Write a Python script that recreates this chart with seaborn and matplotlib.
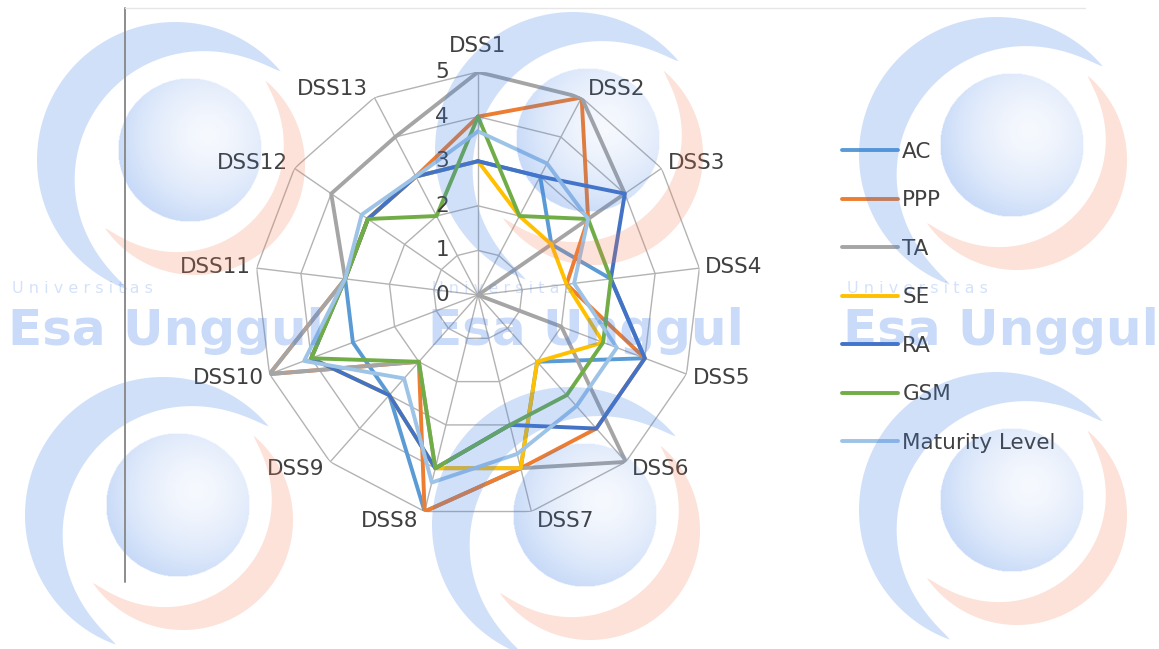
import numpy as np
import pandas as pd
import matplotlib
matplotlib.use("Agg")
import matplotlib.pyplot as plt
import seaborn as sns
from matplotlib.patches import Polygon

# ---------------- data ----------------
categories = ["DSS1", "DSS2", "DSS3", "DSS4", "DSS5", "DSS6", "DSS7",
              "DSS8", "DSS9", "DSS10", "DSS11", "DSS12", "DSS13"]
series_names = ["AC", "PPP", "TA", "SE", "RA", "GSM", "Maturity Level"]
ac = [3, 3, 2, 3, 4, 2, 4, 5, 3, 3, 3, 3, 3]
ppp = [4, 5, 3, 2, 4, 4, 4, 5, 2, 5, 3, 3, 3]
ta = [5, 5, 4, 0, 2, 5, 4, 4, 2, 5, 3, 4, 4]
se = [3, 2, 2, 2, 3, 2, 4, 4, 3, 4, 3, 3, 3]
ra = [3, 3, 4, 3, 4, 4, 3, 4, 3, 4, 3, 3, 3]
gsm = [4, 2, 3, 3, 3, 3, 3, 4, 2, 4, 3, 3, 2]
maturity = [3.67, 3.33, 3.0, 2.17, 3.33, 3.33, 3.67, 4.33, 2.5, 4.17, 3.0, 3.17, 3.0]
tick_values = [0, 1, 2, 3, 4, 5]
colors = ["#5B9BD5", "#ED7D31", "#A5A5A5", "#FFC000", "#4472C4", "#70AD47", "#9DC3E6"]

all_values = [ac, ppp, ta, se, ra, gsm, maturity]

# ---------------- figure ----------------
W, H = 1159, 649
sns.set_theme(style="white")
plt.rcParams["font.family"] = ["DejaVu Sans"]
fig = plt.figure(figsize=(W / 100, H / 100), dpi=100)
fig.patch.set_facecolor("white")

CX, CY, R = 478, 295, 223
ax = fig.add_axes([(CX - R) / W, (H - CY - R) / H, 2 * R / W, 2 * R / H], projection="polar")
ax.set_theta_zero_location("N")
ax.set_theta_direction(-1)
ax.set_ylim(0, max(tick_values))
ax.grid(False)
ax.spines["polar"].set_visible(False)
ax.patch.set_alpha(0)

n = len(categories)
theta = np.linspace(0, 2 * np.pi, n, endpoint=False)

# polygon grid + spokes
grid_c = "#B3B3B3"
closed_t = np.append(theta, theta[0])
for r in tick_values[1:]:
    ax.plot(closed_t, [r] * (n + 1), color=grid_c, lw=1.0, zorder=1)
for t in theta:
    ax.plot([t, t], [0, max(tick_values)], color=grid_c, lw=1.0, zorder=1)

# data frame (closed loops)
rows = []
for name, vals in zip(series_names, all_values):
    for k, i in enumerate(list(range(n)) + [0]):
        rows.append({"series": name, "theta": theta[i] if k < n else 2 * np.pi,
                     "value": vals[i], "order": k})
df = pd.DataFrame(rows)

sns.lineplot(data=df, x="theta", y="value", hue="series", hue_order=series_names,
             palette=colors, sort=False, estimator=None, lw=2.8, ax=ax, zorder=3)
ax.set_xlabel("")
ax.set_ylabel("")
ax.set_xticks([])
ax.set_yticks([])
ax.grid(False)

text_c = "#404040"
FS = 15.5
PX = 72 / 100  # points per pixel
# category labels anchored next to the outer vertex
for t, lab in zip(theta, categories):
    s, c = np.sin(t), np.cos(t)
    if abs(s) < 0.05:
        ha, dx, dy = "center", 0, 26
    else:
        ha = "left" if s > 0 else "right"
        dx, dy = 6 * np.sign(s), 10 * c
    ax.annotate(lab, xy=(t, max(tick_values)), xytext=(dx * PX, dy * PX),
                textcoords="offset points", ha=ha, va="center", fontsize=FS, color=text_c)

# radial tick labels
for v in tick_values:
    ax.annotate(str(v), xy=(0, v), xytext=(-21, 0), textcoords="offset points",
                ha="right", va="center", fontsize=FS, color=text_c)

# legend
sns.move_legend(ax, "upper left", bbox_to_anchor=(842 / W, 1 - 142 / H),
                bbox_transform=fig.transFigure, frameon=False, title=None,
                fontsize=FS, handlelength=2.6, handletextpad=0.2,
                labelspacing=1.32, borderaxespad=0, borderpad=0)
for txt in ax.get_legend().get_texts():
    txt.set_color(text_c)
for ln in ax.get_legend().get_lines():
    ln.set_linewidth(2.8)

# ---------------- watermark / frame layer ----------------
wm = fig.add_axes([0, 0, 1, 1], zorder=10)
wm.set_xlim(0, W)
wm.set_ylim(H, 0)
wm.axis("off")
wm.patch.set_alpha(0)

blue = "#3F7FE6"
salmon = "#F27B50"
blue_rgb = np.array([0x3F, 0x7F, 0xE6]) / 255.0


def crescent(cx, cy, r_out, wmax, a1, a2, color, alpha):
    phi = np.radians(np.linspace(a1, a2, 160))
    w = wmax * np.sin(np.linspace(0, np.pi, 160)) ** 0.8
    xo = cx + r_out * np.cos(phi)
    yo = cy - r_out * np.sin(phi)
    xi = cx + (r_out - w) * np.cos(phi)
    yi = cy - (r_out - w) * np.sin(phi)
    pts = np.column_stack([np.concatenate([xo, xi[::-1]]), np.concatenate([yo, yi[::-1]])])
    wm.add_patch(Polygon(pts, closed=True, facecolor=color, edgecolor="none", alpha=alpha))


def disc(cx, cy, rad):
    g = np.linspace(-rad, rad, 200)
    xx, yy = np.meshgrid(g, g)
    d_edge = np.hypot(xx, yy)
    d_hi = np.hypot(xx - 0.25 * rad, yy + 0.2 * rad) / (1.3 * rad)
    alpha = 0.05 + 0.24 * np.clip(d_hi, 0, 1) ** 1.6
    alpha[d_edge > rad] = 0
    img = np.zeros((200, 200, 4))
    img[..., :3] = blue_rgb
    img[..., 3] = alpha
    wm.imshow(img, extent=[cx - rad, cx + rad, cy + rad, cy - rad], interpolation="bilinear",
              zorder=2)


def logo(cx, cy):
    crescent(cx - 15, cy + 10, 138, 44, 40, 250, blue, 0.24)
    crescent(cx + 5, cy + 15, 110, 30, 215, 410, salmon, 0.22)
    disc(cx, cy, 72)


for (lx, ly) in [(190, 150), (588, 140), (1012, 145), (178, 505), (585, 515), (1012, 500)]:
    logo(lx, ly)
wm.set_xlim(0, W)
wm.set_ylim(H, 0)

for x0 in [8, 428, 843]:
    wm.text(x0 + 4, 293, "U n i v e r s i t a s", fontsize=11.5, color=blue, alpha=0.22,
            ha="left", va="baseline", family="DejaVu Sans")
    wm.text(x0, 345, "Esa Unggul", fontsize=36, fontweight="bold", color=blue, alpha=0.28,
            ha="left", va="baseline", family="DejaVu Sans")

# frame lines of the slide
wm.plot([125, 125], [8, 582], color="#8C8C8C", lw=1.4)
wm.plot([125, 1085], [8, 8], color="#E6E6E6", lw=1.0)
wm.set_aspect("auto")

fig.savefig("out.png", dpi=100)
